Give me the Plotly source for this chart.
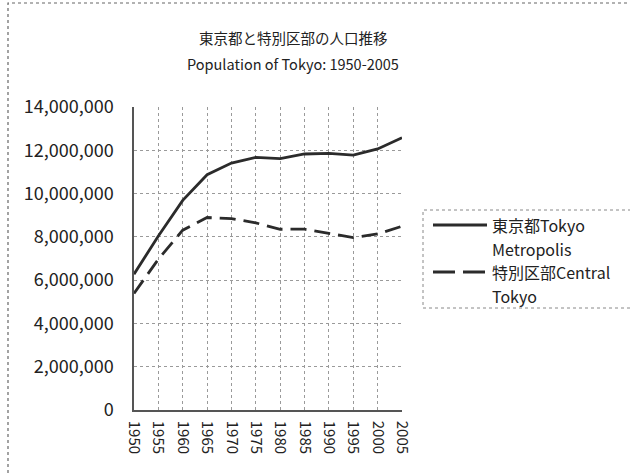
import plotly.graph_objects as go

years = [1950, 1955, 1960, 1965, 1970, 1975, 1980, 1985, 1990, 1995, 2000, 2005]
tokyo_metropolis = [6277500, 8037084, 9683802, 10869244, 11408071, 11673554,
                    11618281, 11829363, 11855563, 11773605, 12064101, 12576601]
central_tokyo = [5385071, 6969104, 8310027, 8893094, 8840942, 8646520,
                 8351893, 8354615, 8163573, 7967614, 8134688, 8489653]
series_names = ["東京都Tokyo Metropolis", "特別区部Central Tokyo"]
legend_lines = [["東京都Tokyo", "Metropolis"], ["特別区部Central", "Tokyo"]]
y_ticks = [0, 2000000, 4000000, 6000000, 8000000, 10000000, 12000000, 14000000]
title_ja = "東京都と特別区部の人口推移"
title_en = "Population of Tokyo: 1950-2005"

FONT = "Noto Sans CJK JP, Noto Sans, sans-serif"
LINE_COLOR = "#2b2b2b"
W, H = 630, 475
L, R, T, B = 134, 402, 107, 410  # plot area in pixels


def px(x):
    return (x - L) / (R - L)


def py(y):
    return (B - y) / (B - T)


fig = go.Figure()
fig.add_trace(go.Scatter(
    x=years, y=tokyo_metropolis, name=series_names[0], mode="lines",
    line=dict(color=LINE_COLOR, width=2.8), showlegend=False,
))
fig.add_trace(go.Scatter(
    x=years, y=central_tokyo, name=series_names[1], mode="lines",
    line=dict(color=LINE_COLOR, width=2.8, dash="16px,8px"), showlegend=False,
))

# Legend drawn by hand: a dotted frame, line samples and wrapped labels.
annotations = [
    dict(text=title_ja, x=px(293), y=py(37), xref="paper", yref="paper",
         showarrow=False, xanchor="center", yanchor="middle",
         font=dict(size=14.5, family=FONT, color="#222")),
    dict(text=title_en, x=px(293), y=py(63), xref="paper", yref="paper",
         showarrow=False, xanchor="center", yanchor="middle",
         font=dict(size=14.5, family=FONT, color="#222")),
]
shapes = [
    # outer chart frame
    dict(type="rect", xref="paper", yref="paper",
         x0=px(8), x1=px(660), y0=py(500), y1=py(3),
         line=dict(color="#666", width=1.2, dash="dot"), layer="below"),
    # legend frame
    dict(type="rect", xref="paper", yref="paper",
         x0=px(423), x1=px(640), y0=py(308), y1=py(210),
         line=dict(color="#888", width=1, dash="dot"), layer="below"),
]

entry_top = [225, 272]
dashes = ["solid", "22px,8px"]
for lines, y0, dash in zip(legend_lines, entry_top, dashes):
    shapes.append(dict(type="line", xref="paper", yref="paper",
                       x0=px(433), x1=px(487), y0=py(y0), y1=py(y0),
                       line=dict(color=LINE_COLOR, width=2.8, dash=dash)))
    for k, txt in enumerate(lines):
        annotations.append(dict(
            text=txt, x=px(490), y=py(y0 + 24 * k), xref="paper", yref="paper",
            showarrow=False, xanchor="left", yanchor="middle",
            font=dict(size=16, family=FONT, color="#222")))

fig.update_layout(
    width=W, height=H,
    margin=dict(l=L, r=W - R, t=T, b=H - B, pad=0, autoexpand=False),
    paper_bgcolor="white", plot_bgcolor="white",
    font=dict(family=FONT, color="#222"),
    showlegend=False,
    xaxis=dict(
        range=[1950, 2005], tickvals=years, ticktext=[str(y) for y in years],
        tickangle=90, tickfont=dict(size=15, family=FONT, color="#222"),
        showgrid=True, gridcolor="#9a9a9a", griddash="dot", gridwidth=1,
        showline=True, linecolor="#555", linewidth=1.5,
        ticks="", zeroline=False, ticklabelstandoff=6,
    ),
    yaxis=dict(
        range=[0, 14000000], tickvals=y_ticks,
        ticktext=[f"{v:,}" for v in y_ticks],
        tickfont=dict(size=18, family=FONT, color="#222"),
        showgrid=True, gridcolor="#9a9a9a", griddash="dot", gridwidth=1,
        showline=True, linecolor="#555", linewidth=1.5,
        ticks="", zeroline=False, ticklabelstandoff=15,
    ),
    annotations=annotations,
    shapes=shapes,
)

fig.write_html("out.html")
